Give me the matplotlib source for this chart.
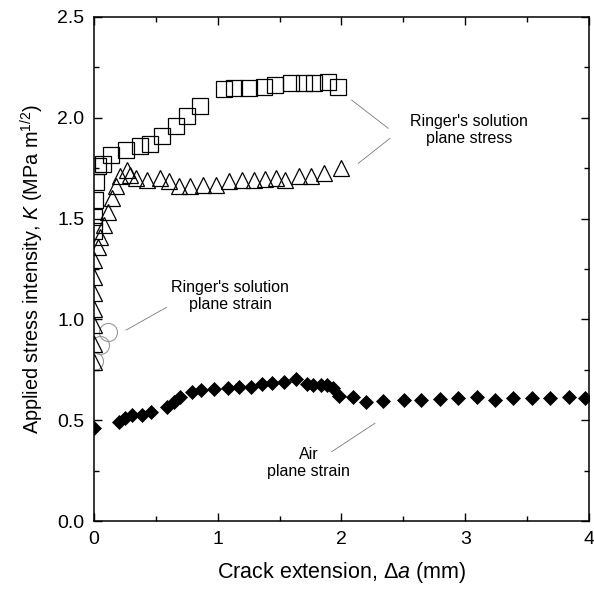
import matplotlib
matplotlib.use("Agg")
import matplotlib.pyplot as plt
from matplotlib.ticker import MultipleLocator

plt.rcParams["font.family"] = ["Liberation Sans", "DejaVu Sans"]
plt.rcParams["mathtext.fontset"] = "custom"
plt.rcParams["mathtext.rm"] = "Liberation Sans"
plt.rcParams["mathtext.it"] = "Liberation Sans:italic"

# Ringer's solution, plane stress (squares)
sq_x = [0.0, 0.0, 0.01, 0.02, 0.03, 0.07, 0.14, 0.26, 0.37, 0.45, 0.55, 0.66,
        0.75, 0.86, 1.05, 1.13, 1.25, 1.37, 1.46, 1.59, 1.70, 1.78, 1.89, 1.97]
sq_k = [1.44, 1.51, 1.59, 1.68, 1.76, 1.77, 1.815, 1.84, 1.86, 1.87, 1.91, 1.96,
        2.01, 2.06, 2.145, 2.15, 2.15, 2.155, 2.165, 2.175, 2.175, 2.175, 2.18, 2.155]

# Ringer's solution, plane stress (triangles)
tri_x = [0.0, 0.0, 0.0, 0.0, 0.0, 0.0, 0.0, 0.03, 0.05, 0.08, 0.115, 0.145,
         0.18, 0.21, 0.265, 0.29, 0.34, 0.43, 0.53, 0.61, 0.69, 0.78, 0.88, 0.99,
         1.09, 1.20, 1.29, 1.38, 1.47, 1.54, 1.66, 1.75, 1.86, 2.0]
tri_k = [0.79, 0.88, 0.97, 1.05, 1.13, 1.21, 1.295, 1.36, 1.41, 1.47, 1.535, 1.60,
         1.66, 1.71, 1.74, 1.715, 1.70, 1.69, 1.70, 1.685, 1.66, 1.66, 1.665, 1.665,
         1.685, 1.69, 1.69, 1.695, 1.70, 1.69, 1.71, 1.71, 1.725, 1.75]

# Ringer's solution, plane strain (circles)
circ_x = [0.0, 0.05, 0.115]
circ_k = [0.795, 0.873, 0.94]

# Air, plane strain (diamonds)
air_x = [0.0, 0.205, 0.25, 0.305, 0.385, 0.458, 0.593, 0.646, 0.695, 0.789, 0.862,
         0.97, 1.085, 1.174, 1.266, 1.355, 1.436, 1.535, 1.632, 1.719, 1.772, 1.832,
         1.885, 1.934, 1.982, 2.09, 2.198, 2.338, 2.505, 2.64, 2.796, 2.944, 3.092,
         3.24, 3.388, 3.537, 3.685, 3.84, 3.968]
air_k = [0.46, 0.493, 0.509, 0.526, 0.526, 0.542, 0.567, 0.592, 0.617, 0.641, 0.65,
         0.653, 0.658, 0.666, 0.666, 0.678, 0.686, 0.691, 0.703, 0.68, 0.675, 0.675,
         0.675, 0.658, 0.62, 0.614, 0.592, 0.597, 0.60, 0.60, 0.604, 0.609, 0.614,
         0.60, 0.609, 0.609, 0.609, 0.614, 0.609]

fig = plt.figure(figsize=(5.94, 5.92), dpi=100)
ax = fig.add_axes([0.1582, 0.1199, 0.8333, 0.8514])

ax.plot(circ_x, circ_k, "o", ms=13, mfc="none", mec="#999999", mew=0.8, zorder=2)
ax.plot(sq_x, sq_k, "s", ms=11, mfc="none", mec="black", mew=0.9, zorder=3)
ax.plot(tri_x, tri_k, "^", ms=11, mfc="none", mec="black", mew=0.9, zorder=3)
ax.plot(air_x, air_k, "D", ms=7.5, mfc="black", mec="black", mew=0.5, zorder=3)

line_kw = dict(color="#7a7a7a", lw=0.6)
ax.plot([2.082, 2.378], [2.088, 1.948], **line_kw)
ax.plot([2.136, 2.392], [1.774, 1.898], **line_kw)
ax.plot([0.259, 0.587], [0.947, 1.060], **line_kw)
ax.plot([1.921, 2.271], [0.344, 0.485], **line_kw)

txt_kw = dict(ha="center", va="center", multialignment="center", fontsize=11.5)
ax.text(3.03, 1.938, "Ringer's solution\nplane stress", **txt_kw)
ax.text(1.10, 1.116, "Ringer's solution\nplane strain", **txt_kw)
ax.text(1.737, 0.288, "Air\nplane strain", **txt_kw)

ax.set_xlim(0, 4)
ax.set_ylim(0, 2.5)
ax.xaxis.set_major_locator(MultipleLocator(1))
ax.xaxis.set_minor_locator(MultipleLocator(0.5))
ax.yaxis.set_major_locator(MultipleLocator(0.5))
ax.yaxis.set_minor_locator(MultipleLocator(0.25))
ax.yaxis.set_major_formatter(plt.FormatStrFormatter("%.1f"))
ax.tick_params(which="both", direction="in", top=True, right=True, width=1.0)
ax.tick_params(which="major", length=6, labelsize=14, pad=7)
ax.tick_params(which="minor", length=3.5)
for s in ax.spines.values():
    s.set_linewidth(1.1)

ax.set_xlabel(r"Crack extension, $\Delta\mathit{a}$ (mm)", fontsize=15.5, labelpad=9)
ax.set_ylabel(r"Applied stress intensity, $\mathit{K}$ (MPa m$^{1/2}$)", fontsize=14.3, labelpad=8)

fig.savefig("out.png", dpi=100)
